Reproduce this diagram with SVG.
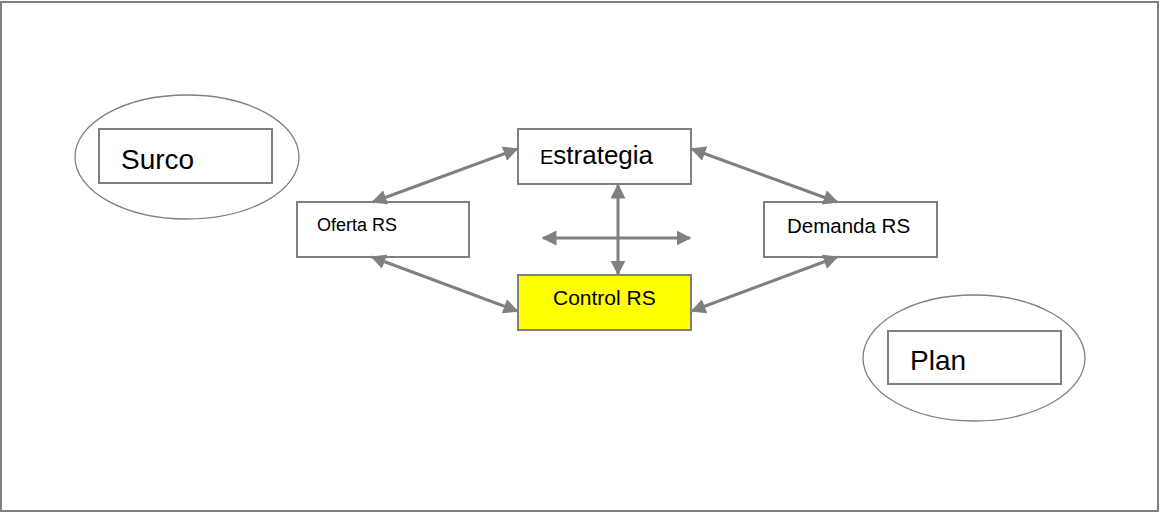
<svg xmlns="http://www.w3.org/2000/svg" width="1160" height="513" viewBox="0 0 1160 513">
<style>
.frame{fill:#fff;stroke:#808080;stroke-width:2}
.box{fill:#fff;stroke:#808080;stroke-width:2}
.ell{fill:#fff;stroke:#808080;stroke-width:1.3}
.t{font-family:"Liberation Sans",Arial,sans-serif;fill:#000}
.c{fill:none;stroke:#808080;stroke-width:3}
</style>
<defs>
<marker id="ah" viewBox="0 0 10 10" refX="9" refY="5" markerWidth="5" markerHeight="5" orient="auto-start-reverse" markerUnits="strokeWidth">
<path d="M0,0 L10,5 L0,10 z" fill="#808080"/>
</marker>
</defs>
<rect class="frame" x="1" y="2" width="1157" height="509"/>
<g id="surco">
<ellipse class="ell" cx="187" cy="157" rx="112" ry="62"/>
<rect class="box" x="99" y="129" width="173" height="54"/>
<text class="t" x="121" y="169" font-size="28">Surco</text>
</g>
<g id="plan">
<ellipse class="ell" cx="974" cy="358" rx="111" ry="63"/>
<rect class="box" x="888" y="331" width="173" height="53"/>
<text class="t" x="910" y="370" font-size="28">Plan</text>
</g>
<g id="estrategia">
<rect class="box" x="518" y="129" width="173" height="55"/>
<text class="t" x="540" y="164" font-size="26"><tspan font-size="20">E</tspan>strategia</text>
</g>
<g id="oferta">
<rect class="box" x="297" y="202" width="172" height="55"/>
<text class="t" x="317" y="231" font-size="18">Oferta RS</text>
</g>
<g id="demanda">
<rect class="box" x="764" y="202" width="173" height="55"/>
<text class="t" x="787" y="233" font-size="20.5">Demanda RS</text>
</g>
<g id="control">
<rect x="518" y="275" width="173" height="55" fill="#ffff00" stroke="#808080" stroke-width="2"/>
<text class="t" x="553" y="305" font-size="21">Control RS</text>
</g>
<g id="connectors">
<line class="c" x1="373" y1="202" x2="517" y2="149" marker-start="url(#ah)" marker-end="url(#ah)"/>
<line class="c" x1="692" y1="149" x2="837" y2="202" marker-start="url(#ah)" marker-end="url(#ah)"/>
<line class="c" x1="372" y1="257" x2="517" y2="311" marker-start="url(#ah)" marker-end="url(#ah)"/>
<line class="c" x1="692" y1="311" x2="837" y2="257" marker-start="url(#ah)" marker-end="url(#ah)"/>
<line class="c" x1="618" y1="185" x2="618" y2="274" marker-start="url(#ah)" marker-end="url(#ah)"/>
<line class="c" x1="543" y1="238" x2="690" y2="238" marker-start="url(#ah)" marker-end="url(#ah)"/>
</g>
</svg>
